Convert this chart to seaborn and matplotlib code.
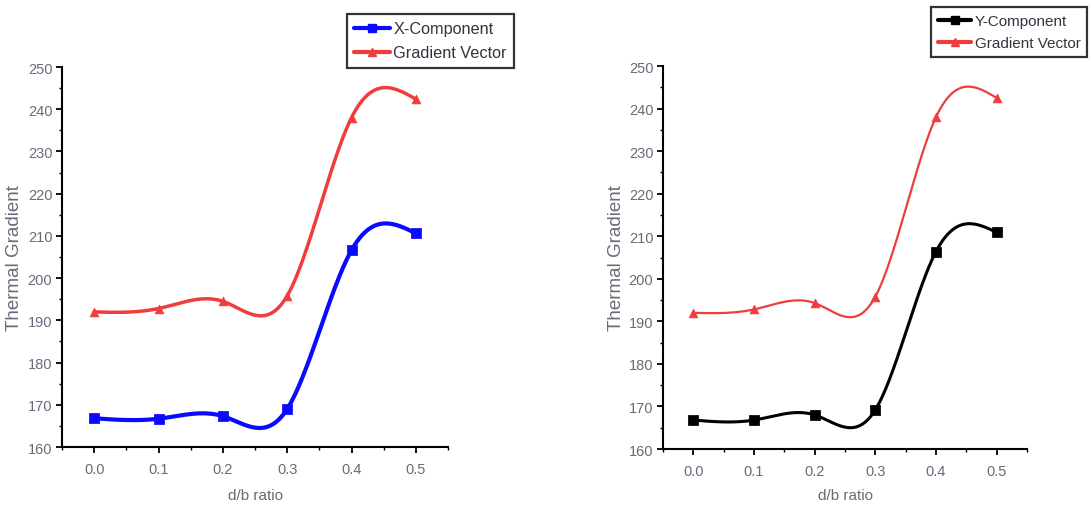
import numpy as np
import pandas as pd
import matplotlib
matplotlib.use("Agg")
import matplotlib.pyplot as plt
from matplotlib.lines import Line2D
from matplotlib.ticker import MultipleLocator
import seaborn as sns

# ---- data ----
db_ratio = [0.0, 0.1, 0.2, 0.3, 0.4, 0.5]
x_component = [166.8, 166.7, 167.3, 169.0, 206.6, 210.6]
y_component = [166.8, 166.8, 168.0, 169.2, 206.4, 210.9]
gradient_left = [192.0, 192.8, 194.5, 195.8, 238.0, 242.4]
gradient_right = [192.0, 192.8, 194.3, 195.8, 238.0, 242.5]
x_ticks = [0.0, 0.1, 0.2, 0.3, 0.4, 0.5]
y_ticks = [160, 170, 180, 190, 200, 210, 220, 230, 240, 250]

sns.set_theme(style="white")
plt.rcParams['font.family'] = ['Liberation Sans', 'DejaVu Sans']


def spline_curve(xs, ys, n=300):
    """Natural cubic spline through the data points (smoothed connecting line)."""
    xs = np.asarray(xs, float)
    ys = np.asarray(ys, float)
    k = len(xs)
    h = np.diff(xs)
    A = np.zeros((k, k))
    b = np.zeros(k)
    A[0, 0] = 1
    A[-1, -1] = 1
    for i in range(1, k - 1):
        A[i, i - 1] = h[i - 1]
        A[i, i] = 2 * (h[i - 1] + h[i])
        A[i, i + 1] = h[i]
        b[i] = 6 * ((ys[i + 1] - ys[i]) / h[i] - (ys[i] - ys[i - 1]) / h[i - 1])
    M = np.linalg.solve(A, b)
    xx = np.linspace(xs[0], xs[-1], n)
    yy = np.empty_like(xx)
    for j, x in enumerate(xx):
        i = min(np.searchsorted(xs, x, side='right') - 1, k - 2)
        t1 = xs[i + 1] - x
        t0 = x - xs[i]
        yy[j] = (M[i] * t1 ** 3 / (6 * h[i]) + M[i + 1] * t0 ** 3 / (6 * h[i])
                 + (ys[i] / h[i] - M[i] * h[i] / 6) * t1
                 + (ys[i + 1] / h[i] - M[i + 1] * h[i] / 6) * t0)
    return xx, yy


fig = plt.figure(figsize=(10.91, 5.06), dpi=100)
ax1 = fig.add_axes([62 / 1091, 1 - 448 / 506, 386 / 1091, 380 / 506])
ax2 = fig.add_axes([663 / 1091, 1 - 450 / 506, 364 / 1091, 383 / 506])

tick_grey = '#6a6a78'
red = '#f03c3c'


def draw(ax, comp, comp_color, comp_lw, grad, grad_lw, comp_label, leg_anchor, ylab_off, leg_fs):
    xs, ys = spline_curve(db_ratio, grad)
    sns.lineplot(x=xs, y=ys, ax=ax, color=red, lw=grad_lw, sort=False, estimator=None)
    sns.scatterplot(x=db_ratio, y=grad, ax=ax, color=red, marker='^', s=40, edgecolor=red, zorder=3)
    xs, ys = spline_curve(db_ratio, comp)
    sns.lineplot(x=xs, y=ys, ax=ax, color=comp_color, lw=comp_lw, sort=False, estimator=None)
    sns.scatterplot(x=db_ratio, y=comp, ax=ax, color=comp_color, marker='s', s=45, edgecolor=comp_color, zorder=3)

    ax.set_xlim(-0.05, 0.55)
    ax.set_ylim(160, 250)
    ax.set_xticks(x_ticks)
    ax.set_xticklabels([f"{v:.1f}" for v in x_ticks])
    ax.set_yticks(y_ticks)
    ax.xaxis.set_minor_locator(MultipleLocator(0.05))
    ax.yaxis.set_minor_locator(MultipleLocator(5))
    for s in ['top', 'right']:
        ax.spines[s].set_visible(False)
    for s in ['left', 'bottom']:
        ax.spines[s].set_color('black')
        ax.spines[s].set_linewidth(1.5)
    ax.tick_params(which='major', direction='out', length=4, width=1.3, color='black',
                   labelsize=10.5, labelcolor=tick_grey, bottom=True, left=True)
    ax.tick_params(axis='y', which='major', pad=3)
    ax.tick_params(axis='x', which='major', pad=7)
    ax.tick_params(which='minor', direction='out', length=2.5, width=1.0, color='black',
                   bottom=True, left=True)

    pos = ax.get_position()
    ax_h_px = pos.height * 506
    ax_w_px = pos.width * 1091
    ax_bottom_px = (1 - pos.y0) * 506
    ax.set_xlabel('d/b ratio', fontsize=11, color=tick_grey)
    ax.xaxis.set_label_coords(0.5, -(489 - ax_bottom_px) / ax_h_px)
    ax.set_ylabel('Thermal Gradient', fontsize=13.5, color=tick_grey)
    ax.yaxis.set_label_coords(-ylab_off / ax_w_px, 0.5)

    handles = [
        Line2D([], [], color=comp_color, lw=3, marker='s', markersize=6),
        Line2D([], [], color=red, lw=3, marker='^', markersize=6),
    ]
    leg = fig.legend(handles, [comp_label, 'Gradient Vector'], loc='upper left',
                     bbox_to_anchor=leg_anchor, bbox_transform=fig.transFigure,
                     fontsize=leg_fs, frameon=True, fancybox=False, edgecolor='black',
                     handlelength=2.2, handletextpad=0.2, borderpad=0.45,
                     labelspacing=0.55, borderaxespad=0)
    leg.get_frame().set_linewidth(1.6)
    for t in leg.get_texts():
        t.set_color('#333340')


draw(ax1, x_component, '#0a0aff', 3.0, gradient_left, 2.5, 'X-Component',
     (347 / 1091, 1 - 15 / 506), 39, 11.7)
draw(ax2, y_component, 'black', 2.2, gradient_right, 1.6, 'Y-Component',
     (931 / 1091, 1 - 8 / 506), 38, 11)

fig.savefig('out.png', dpi=100)
